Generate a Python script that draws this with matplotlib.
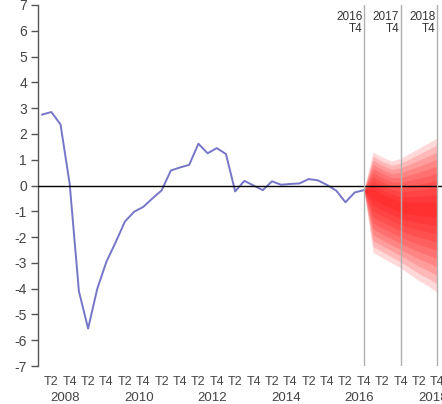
import numpy as np
import matplotlib
matplotlib.use("Agg")
import matplotlib.pyplot as plt
from matplotlib.transforms import blended_transform_factory

plt.rcParams["font.family"] = ["Liberation Sans", "DejaVu Sans"]
plt.rcParams["axes.unicode_minus"] = False

# quarterly series, 2008 T1 .. 2016 T4
hist = [2.75, 2.85, 2.37, 0.05, -4.1, -5.55, -4.0, -2.95, -2.2, -1.4, -1.02, -0.83,
        -0.5, -0.19, 0.58, 0.7, 0.8, 1.62, 1.25, 1.45, 1.22, -0.23, 0.18, 0.0,
        -0.18, 0.16, 0.03, 0.06, 0.08, 0.25, 0.2, 0.02, -0.2, -0.65, -0.27, -0.18]

# fan chart, 2016 T4 .. 2018 T4
fan_center = [-0.18, -0.3, -0.5, -0.65, -0.8, -0.85, -0.88, -0.9, -0.9]
fan_upper = [-0.18, 1.3, 1.1, 0.95, 1.05, 1.25, 1.45, 1.65, 1.85]
fan_lower = [-0.18, -2.6, -2.8, -3.0, -3.2, -3.45, -3.7, -3.9, -4.15]
fan_levels = [1.0, 0.9, 0.8, 0.7, 0.6, 0.5, 0.4, 0.3, 0.2, 0.1]

marker_labels = ["2016\nT4", "2017\nT4", "2018\nT4"]
years = list(range(2008, 2019))

fig = plt.figure(figsize=(4.42, 4.04), dpi=100)
ax = fig.add_axes([38 / 442, 38 / 404, 1 - 38 / 442, 361 / 404])

x_hist = np.arange(len(hist))
x_fan = np.arange(len(hist) - 1, len(hist) - 1 + len(fan_center))
c = np.array(fan_center); up = np.array(fan_upper); lo = np.array(fan_lower)

for f in fan_levels:
    ax.fill_between(x_fan, c - f * (c - lo), c + f * (up - c),
                    color="#ff0000", alpha=0.15, lw=0, zorder=2)

ax.plot(x_hist, hist, color="#7676c8", lw=1.4, zorder=3)
ax.axhline(0, color="black", lw=1, zorder=4)

# vertical markers at each T4 of the forecast horizon
trans = blended_transform_factory(ax.transData, ax.transAxes)
for k, lab in enumerate(marker_labels):
    xv = x_fan[0] + 4 * k
    ax.axvline(xv, color="#b0b0b0", lw=1.0, zorder=5)
    ax.text(xv - 0.15, 0.982, lab, transform=trans, ha="right", va="top",
            fontsize=8.5, color="#333333", linespacing=0.95)

# x tick labels: T2 / T4, years under the T4 of even years
ticks, labels = [], []
for i, y in enumerate(years):
    ticks += [4 * i + 1, 4 * i + 3]
    labels += ["T2", "T4"]
    if y % 2 == 0:
        ax.text(4 * i + 2.5, -0.072, str(y), transform=trans, ha="center", va="top",
                fontsize=9.5, color="#444444")
ax.set_xticks(ticks)
ax.set_xticklabels(labels, fontsize=9, color="#444444")
ax.tick_params(axis="x", length=0, pad=7)

ax.set_yticks(range(-7, 8))
ax.tick_params(axis="y", length=5, width=1, color="#555555", labelsize=10,
               labelcolor="#444444", pad=3)

ax.set_xlim(-0.45, 43.5)
ax.set_ylim(-7, 7)
for s in ["top", "right", "bottom"]:
    ax.spines[s].set_visible(False)
ax.spines["left"].set_color("#555555")
ax.spines["left"].set_linewidth(1)

fig.savefig("out.png", dpi=100)
